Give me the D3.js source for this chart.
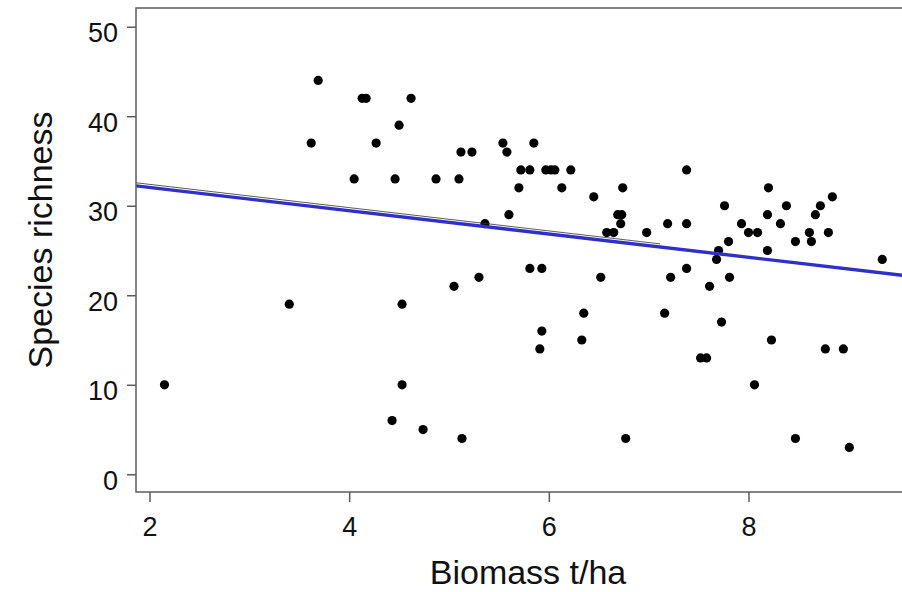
<!DOCTYPE html>
<html>
<head>
<meta charset="utf-8">
<script src="https://cdn.jsdelivr.net/npm/d3@7"></script>
<style>
  html, body { margin: 0; padding: 0; background: #fff; }
  svg { display: block; }
  text { font-family: "Liberation Sans", Arial, sans-serif; fill: #111; }
</style>
</head>
<body>
<svg id="chart" width="902" height="592"></svg>
<script>
// ---- data ----
const biomass = [2.15,3.40,3.62,3.69,4.05,4.13,4.17,4.27,4.43,4.46,4.50,4.53,4.53,4.62,4.74,4.87,
  5.05,5.10,5.12,5.13,5.23,5.30,5.36,5.54,5.58,5.60,5.70,5.72,5.81,5.81,5.85,5.91,5.93,5.93,
  5.97,6.02,6.06,6.13,6.22,6.33,6.35,6.45,6.52,6.58,6.65,6.69,6.73,6.72,6.74,6.77,6.98,
  7.16,7.19,7.22,7.38,7.38,7.38,7.52,7.58,7.61,7.68,7.70,7.73,7.76,7.80,7.81,7.93,8.00,
  8.06,8.09,8.19,8.19,8.20,8.23,8.32,8.38,8.47,8.47,8.61,8.63,8.67,8.72,8.77,8.80,8.84,
  8.95,9.01,9.34];
const richness = [10,19,37,44,33,42,42,37,6,33,39,19,10,42,5,33,
  21,33,36,4,36,22,28,37,36,29,32,34,34,23,37,14,16,23,
  34,34,34,32,34,15,18,31,22,27,27,29,29,28,32,4,27,
  18,28,22,34,28,23,13,13,21,24,25,17,30,26,22,28,27,
  10,27,29,25,32,15,28,30,26,4,27,26,29,30,14,27,31,
  14,3,24];
const xTicks = [2,4,6,8];
const yTicks = [0,10,20,30,40,50];
// fitted lines: [intercept, slope]
const fitBlue = [34.64, -1.30];
const fitBlack = [34.99, -1.30];
const xLabel = "Biomass t/ha";
const yLabel = "Species richness";

// ---- layout ----
const svg = d3.select("#chart");
const plotLeft = 136, plotTop = 8, plotBottom = 492, plotRight = 920;
const x = d3.scaleLinear().domain([2, 8]).range([149.5, 748.5]);
const y = d3.scaleLinear().domain([0, 50]).range([474.3, 26.7]);

svg.append("defs").append("clipPath").attr("id", "clip")
  .append("rect").attr("x", plotLeft).attr("y", plotTop)
  .attr("width", plotRight - plotLeft).attr("height", plotBottom - plotTop);

// points
const pts = biomass.map((b, i) => ({b, r: richness[i]}));
svg.append("g").selectAll("circle").data(pts).join("circle")
  .attr("cx", d => x(d.b)).attr("cy", d => y(d.r)).attr("r", 4.6)
  .attr("fill", "#000");

// lines
const xs0 = x.invert(plotLeft), xs1 = x.invert(plotRight), xsB = x.invert(660);
const lg = svg.append("g").attr("clip-path", "url(#clip)");
lg.append("line")
  .attr("x1", x(xs0)).attr("y1", y(fitBlue[0] + fitBlue[1] * xs0))
  .attr("x2", x(xs1)).attr("y2", y(fitBlue[0] + fitBlue[1] * xs1))
  .attr("stroke", "#3030c8").attr("stroke-width", 3.4);
lg.append("line")
  .attr("x1", x(xs0)).attr("y1", y(fitBlack[0] + fitBlack[1] * xs0))
  .attr("x2", x(xsB)).attr("y2", y(fitBlack[0] + fitBlack[1] * xsB))
  .attr("stroke", "#333").attr("stroke-width", 1).attr("opacity", 0.8);

// box
svg.append("rect").attr("x", plotLeft).attr("y", plotTop)
  .attr("width", plotRight - plotLeft).attr("height", plotBottom - plotTop)
  .attr("fill", "none").attr("stroke", "#5c5c5c").attr("stroke-width", 1.5);

// x axis
const xAxis = d3.axisBottom(x).tickValues(xTicks).tickSize(10).tickPadding(15)
  .tickFormat(d3.format("d"));
const gx = svg.append("g").attr("transform", `translate(0,${plotBottom})`).call(xAxis);
gx.select(".domain").remove();
gx.selectAll(".tick line").attr("stroke", "#5c5c5c").attr("stroke-width", 1.5);
gx.selectAll(".tick text").attr("font-size", 27).attr("fill", "#111")
  .attr("font-family", "Liberation Sans, Arial, sans-serif");

// y axis
const yAxis = d3.axisLeft(y).tickValues(yTicks).tickSize(9).tickPadding(9)
  .tickFormat(d3.format("d"));
const gy = svg.append("g").attr("transform", `translate(${plotLeft},0)`).call(yAxis);
gy.select(".domain").remove();
gy.selectAll(".tick line").attr("stroke", "#5c5c5c").attr("stroke-width", 1.5);
gy.selectAll(".tick text").attr("font-size", 27).attr("fill", "#111")
  .attr("dy", "0.55em")
  .attr("font-family", "Liberation Sans, Arial, sans-serif");

// axis titles
svg.append("text").attr("x", 528).attr("y", 584).attr("text-anchor", "middle")
  .attr("font-size", 34).text(xLabel);
svg.append("text").attr("transform", "translate(52,240) rotate(-90)")
  .attr("text-anchor", "middle").attr("font-size", 34).text(yLabel);
</script>
</body>
</html>
